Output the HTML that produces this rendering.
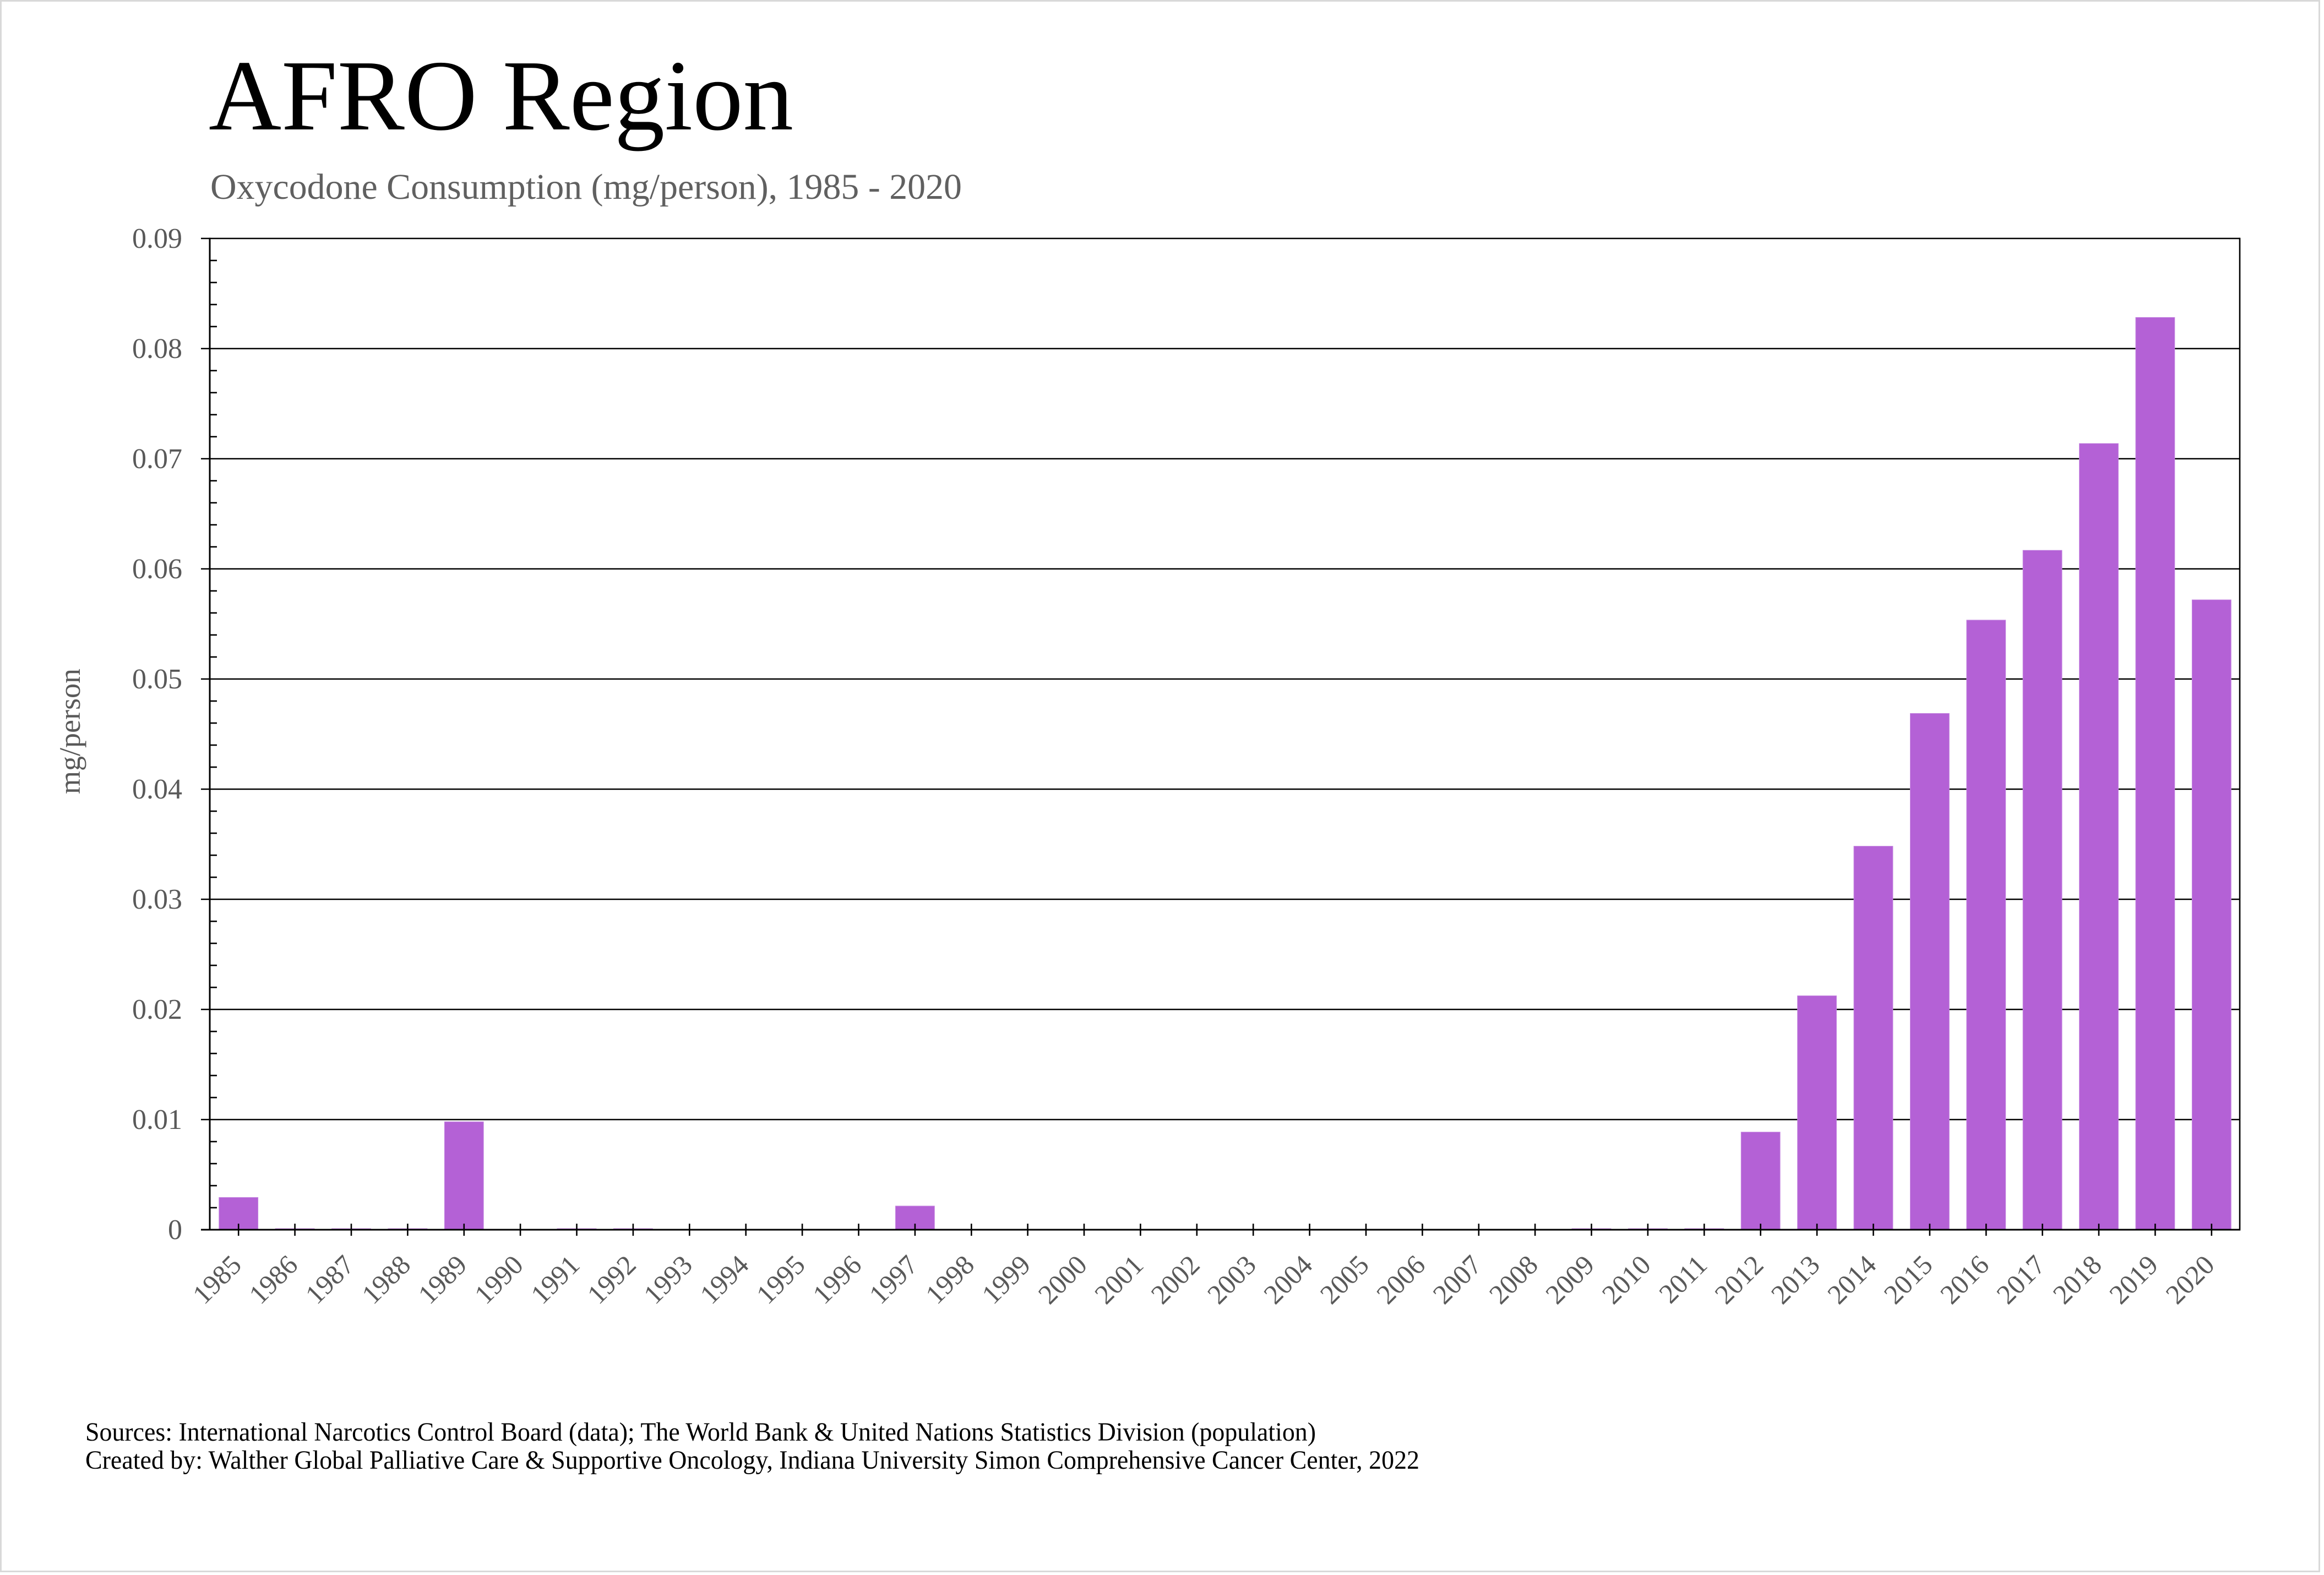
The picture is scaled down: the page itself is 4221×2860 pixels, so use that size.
<!DOCTYPE html>
<html>
<head>
<meta charset="utf-8">
<style>
  html, body { margin: 0; padding: 0; background: #ffffff; }
  svg { display: block; }
  text { font-family: "Liberation Serif", "Times New Roman", serif; }
</style>
</head>
<body>
<svg xmlns="http://www.w3.org/2000/svg" width="4221" height="2860" viewBox="0 0 4221 2860">
  <rect x="0" y="0" width="4221" height="2860" fill="#ffffff"/>
  <!-- outer frame -->
  <rect x="1.5" y="1.5" width="4211" height="2852" fill="none" stroke="#d9d9d9" stroke-width="3"/>

  <!-- Title -->
  <text x="379" y="235" font-size="183" fill="#000000" textLength="1062" lengthAdjust="spacingAndGlyphs">AFRO Region</text>
  <!-- Subtitle -->
  <text x="382" y="361" font-size="66" fill="#606060" textLength="1365" lengthAdjust="spacingAndGlyphs">Oxycodone Consumption (mg/person), 1985 - 2020</text>

  <!-- Gridlines (drawn under bars) -->
  <g stroke="#000000" stroke-width="2.6">
    <line x1="365" y1="433" x2="4068" y2="433"/>
    <line x1="365" y1="633" x2="4068" y2="633"/>
    <line x1="365" y1="833" x2="4068" y2="833"/>
    <line x1="365" y1="1033" x2="4068" y2="1033"/>
    <line x1="365" y1="1233" x2="4068" y2="1233"/>
    <line x1="365" y1="1433" x2="4068" y2="1433"/>
    <line x1="365" y1="1633" x2="4068" y2="1633"/>
    <line x1="365" y1="1833" x2="4068" y2="1833"/>
    <line x1="365" y1="2033" x2="4068" y2="2033"/>
  </g>

  <!-- Bars -->
  <g fill="#b461d6" stroke="#c485e0" stroke-width="1">
    <rect x="397.8" y="2174.4" width="70.8" height="58.6"/>
    <rect x="500.2" y="2231" width="70.8" height="2"/>
    <rect x="602.6" y="2231" width="70.8" height="2"/>
    <rect x="705.0" y="2231" width="70.8" height="2"/>
    <rect x="807.4" y="2037" width="70.8" height="196"/>
    <rect x="1012.1" y="2231" width="70.8" height="2"/>
    <rect x="1114.5" y="2231" width="70.8" height="2"/>
    <rect x="1626.5" y="2190" width="70.8" height="43"/>
    <rect x="2855.1" y="2231" width="70.8" height="2"/>
    <rect x="2957.5" y="2231" width="70.8" height="2"/>
    <rect x="3059.9" y="2231" width="70.8" height="2"/>
    <rect x="3162.3" y="2055.7" width="70.8" height="177.3"/>
    <rect x="3264.7" y="1808.2" width="70.8" height="424.8"/>
    <rect x="3367.1" y="1536.6" width="70.8" height="696.4"/>
    <rect x="3469.5" y="1295.5" width="70.8" height="937.5"/>
    <rect x="3571.9" y="1126" width="70.8" height="1107"/>
    <rect x="3674.2" y="999.3" width="70.8" height="1233.7"/>
    <rect x="3776.6" y="805.4" width="70.8" height="1427.6"/>
    <rect x="3879.0" y="576.4" width="70.8" height="1656.6"/>
    <rect x="3981.4" y="1089.2" width="70.8" height="1143.8"/>
  </g>

  <!-- Axes -->
  <g stroke="#000000">
    <line x1="381" y1="431.7" x2="381" y2="2234.5" stroke-width="3"/>
    <line x1="4068" y1="431.7" x2="4068" y2="2234.5" stroke-width="2.6"/>
    <line x1="365" y1="2233" x2="4069" y2="2233" stroke-width="3"/>
  </g>

  <!-- Minor y ticks -->
  <g stroke="#000000" stroke-width="2.6">
    <line x1="381" y1="473" x2="394" y2="473"/><line x1="381" y1="513" x2="394" y2="513"/><line x1="381" y1="553" x2="394" y2="553"/><line x1="381" y1="593" x2="394" y2="593"/>
    <line x1="381" y1="673" x2="394" y2="673"/><line x1="381" y1="713" x2="394" y2="713"/><line x1="381" y1="753" x2="394" y2="753"/><line x1="381" y1="793" x2="394" y2="793"/>
    <line x1="381" y1="873" x2="394" y2="873"/><line x1="381" y1="913" x2="394" y2="913"/><line x1="381" y1="953" x2="394" y2="953"/><line x1="381" y1="993" x2="394" y2="993"/>
    <line x1="381" y1="1073" x2="394" y2="1073"/><line x1="381" y1="1113" x2="394" y2="1113"/><line x1="381" y1="1153" x2="394" y2="1153"/><line x1="381" y1="1193" x2="394" y2="1193"/>
    <line x1="381" y1="1273" x2="394" y2="1273"/><line x1="381" y1="1313" x2="394" y2="1313"/><line x1="381" y1="1353" x2="394" y2="1353"/><line x1="381" y1="1393" x2="394" y2="1393"/>
    <line x1="381" y1="1473" x2="394" y2="1473"/><line x1="381" y1="1513" x2="394" y2="1513"/><line x1="381" y1="1553" x2="394" y2="1553"/><line x1="381" y1="1593" x2="394" y2="1593"/>
    <line x1="381" y1="1673" x2="394" y2="1673"/><line x1="381" y1="1713" x2="394" y2="1713"/><line x1="381" y1="1753" x2="394" y2="1753"/><line x1="381" y1="1793" x2="394" y2="1793"/>
    <line x1="381" y1="1873" x2="394" y2="1873"/><line x1="381" y1="1913" x2="394" y2="1913"/><line x1="381" y1="1953" x2="394" y2="1953"/><line x1="381" y1="1993" x2="394" y2="1993"/>
    <line x1="381" y1="2073" x2="394" y2="2073"/><line x1="381" y1="2113" x2="394" y2="2113"/><line x1="381" y1="2153" x2="394" y2="2153"/><line x1="381" y1="2193" x2="394" y2="2193"/>
  </g>

  <!-- X ticks -->
  <g stroke="#000000" stroke-width="2.6">
    <line x1="433.2" y1="2222" x2="433.2" y2="2244"/>
    <line x1="535.6" y1="2222" x2="535.6" y2="2244"/>
    <line x1="638.0" y1="2222" x2="638.0" y2="2244"/>
    <line x1="740.4" y1="2222" x2="740.4" y2="2244"/>
    <line x1="842.8" y1="2222" x2="842.8" y2="2244"/>
    <line x1="945.1" y1="2222" x2="945.1" y2="2244"/>
    <line x1="1047.5" y1="2222" x2="1047.5" y2="2244"/>
    <line x1="1149.9" y1="2222" x2="1149.9" y2="2244"/>
    <line x1="1252.3" y1="2222" x2="1252.3" y2="2244"/>
    <line x1="1354.7" y1="2222" x2="1354.7" y2="2244"/>
    <line x1="1457.1" y1="2222" x2="1457.1" y2="2244"/>
    <line x1="1559.5" y1="2222" x2="1559.5" y2="2244"/>
    <line x1="1661.9" y1="2222" x2="1661.9" y2="2244"/>
    <line x1="1764.3" y1="2222" x2="1764.3" y2="2244"/>
    <line x1="1866.6" y1="2222" x2="1866.6" y2="2244"/>
    <line x1="1969.0" y1="2222" x2="1969.0" y2="2244"/>
    <line x1="2071.4" y1="2222" x2="2071.4" y2="2244"/>
    <line x1="2173.8" y1="2222" x2="2173.8" y2="2244"/>
    <line x1="2276.2" y1="2222" x2="2276.2" y2="2244"/>
    <line x1="2378.6" y1="2222" x2="2378.6" y2="2244"/>
    <line x1="2481.0" y1="2222" x2="2481.0" y2="2244"/>
    <line x1="2583.4" y1="2222" x2="2583.4" y2="2244"/>
    <line x1="2685.8" y1="2222" x2="2685.8" y2="2244"/>
    <line x1="2788.1" y1="2222" x2="2788.1" y2="2244"/>
    <line x1="2890.5" y1="2222" x2="2890.5" y2="2244"/>
    <line x1="2992.9" y1="2222" x2="2992.9" y2="2244"/>
    <line x1="3095.3" y1="2222" x2="3095.3" y2="2244"/>
    <line x1="3197.7" y1="2222" x2="3197.7" y2="2244"/>
    <line x1="3300.1" y1="2222" x2="3300.1" y2="2244"/>
    <line x1="3402.5" y1="2222" x2="3402.5" y2="2244"/>
    <line x1="3504.9" y1="2222" x2="3504.9" y2="2244"/>
    <line x1="3607.3" y1="2222" x2="3607.3" y2="2244"/>
    <line x1="3709.6" y1="2222" x2="3709.6" y2="2244"/>
    <line x1="3812.0" y1="2222" x2="3812.0" y2="2244"/>
    <line x1="3914.4" y1="2222" x2="3914.4" y2="2244"/>
    <line x1="4016.8" y1="2222" x2="4016.8" y2="2244"/>
  </g>

  <!-- Y tick labels -->
  <g font-size="52" fill="#595959" text-anchor="end">
    <text x="331" y="450">0.09</text>
    <text x="331" y="650">0.08</text>
    <text x="331" y="850">0.07</text>
    <text x="331" y="1050">0.06</text>
    <text x="331" y="1250">0.05</text>
    <text x="331" y="1450">0.04</text>
    <text x="331" y="1650">0.03</text>
    <text x="331" y="1850">0.02</text>
    <text x="331" y="2050">0.01</text>
    <text x="331" y="2250">0</text>
  </g>

  <!-- Y axis title -->
  <text transform="translate(145,1328) rotate(-90)" font-size="54" fill="#595959" text-anchor="middle">mg/person</text>

  <!-- X tick labels -->
  <g font-size="50" fill="#595959" text-anchor="end">
    <text transform="translate(441.2,2300) rotate(-45)">1985</text>
    <text transform="translate(543.6,2300) rotate(-45)">1986</text>
    <text transform="translate(646.0,2300) rotate(-45)">1987</text>
    <text transform="translate(748.4,2300) rotate(-45)">1988</text>
    <text transform="translate(850.8,2300) rotate(-45)">1989</text>
    <text transform="translate(953.1,2300) rotate(-45)">1990</text>
    <text transform="translate(1055.5,2300) rotate(-45)">1991</text>
    <text transform="translate(1157.9,2300) rotate(-45)">1992</text>
    <text transform="translate(1260.3,2300) rotate(-45)">1993</text>
    <text transform="translate(1362.7,2300) rotate(-45)">1994</text>
    <text transform="translate(1465.1,2300) rotate(-45)">1995</text>
    <text transform="translate(1567.5,2300) rotate(-45)">1996</text>
    <text transform="translate(1669.9,2300) rotate(-45)">1997</text>
    <text transform="translate(1772.3,2300) rotate(-45)">1998</text>
    <text transform="translate(1874.6,2300) rotate(-45)">1999</text>
    <text transform="translate(1977.0,2300) rotate(-45)">2000</text>
    <text transform="translate(2079.4,2300) rotate(-45)">2001</text>
    <text transform="translate(2181.8,2300) rotate(-45)">2002</text>
    <text transform="translate(2284.2,2300) rotate(-45)">2003</text>
    <text transform="translate(2386.6,2300) rotate(-45)">2004</text>
    <text transform="translate(2489.0,2300) rotate(-45)">2005</text>
    <text transform="translate(2591.4,2300) rotate(-45)">2006</text>
    <text transform="translate(2693.8,2300) rotate(-45)">2007</text>
    <text transform="translate(2796.1,2300) rotate(-45)">2008</text>
    <text transform="translate(2898.5,2300) rotate(-45)">2009</text>
    <text transform="translate(3000.9,2300) rotate(-45)">2010</text>
    <text transform="translate(3103.3,2300) rotate(-45)">2011</text>
    <text transform="translate(3205.7,2300) rotate(-45)">2012</text>
    <text transform="translate(3308.1,2300) rotate(-45)">2013</text>
    <text transform="translate(3410.5,2300) rotate(-45)">2014</text>
    <text transform="translate(3512.9,2300) rotate(-45)">2015</text>
    <text transform="translate(3615.3,2300) rotate(-45)">2016</text>
    <text transform="translate(3717.6,2300) rotate(-45)">2017</text>
    <text transform="translate(3820.0,2300) rotate(-45)">2018</text>
    <text transform="translate(3922.4,2300) rotate(-45)">2019</text>
    <text transform="translate(4024.8,2300) rotate(-45)">2020</text>
  </g>

  <!-- Footer -->
  <text x="155" y="2616" font-size="48" fill="#000000" textLength="2235" lengthAdjust="spacingAndGlyphs">Sources: International Narcotics Control Board (data); The World Bank &amp; United Nations Statistics Division (population)</text>
  <text x="155" y="2667" font-size="48" fill="#000000" textLength="2423" lengthAdjust="spacingAndGlyphs">Created by: Walther Global Palliative Care &amp; Supportive Oncology, Indiana University Simon Comprehensive Cancer Center, 2022</text>
</svg>
</body>
</html>
